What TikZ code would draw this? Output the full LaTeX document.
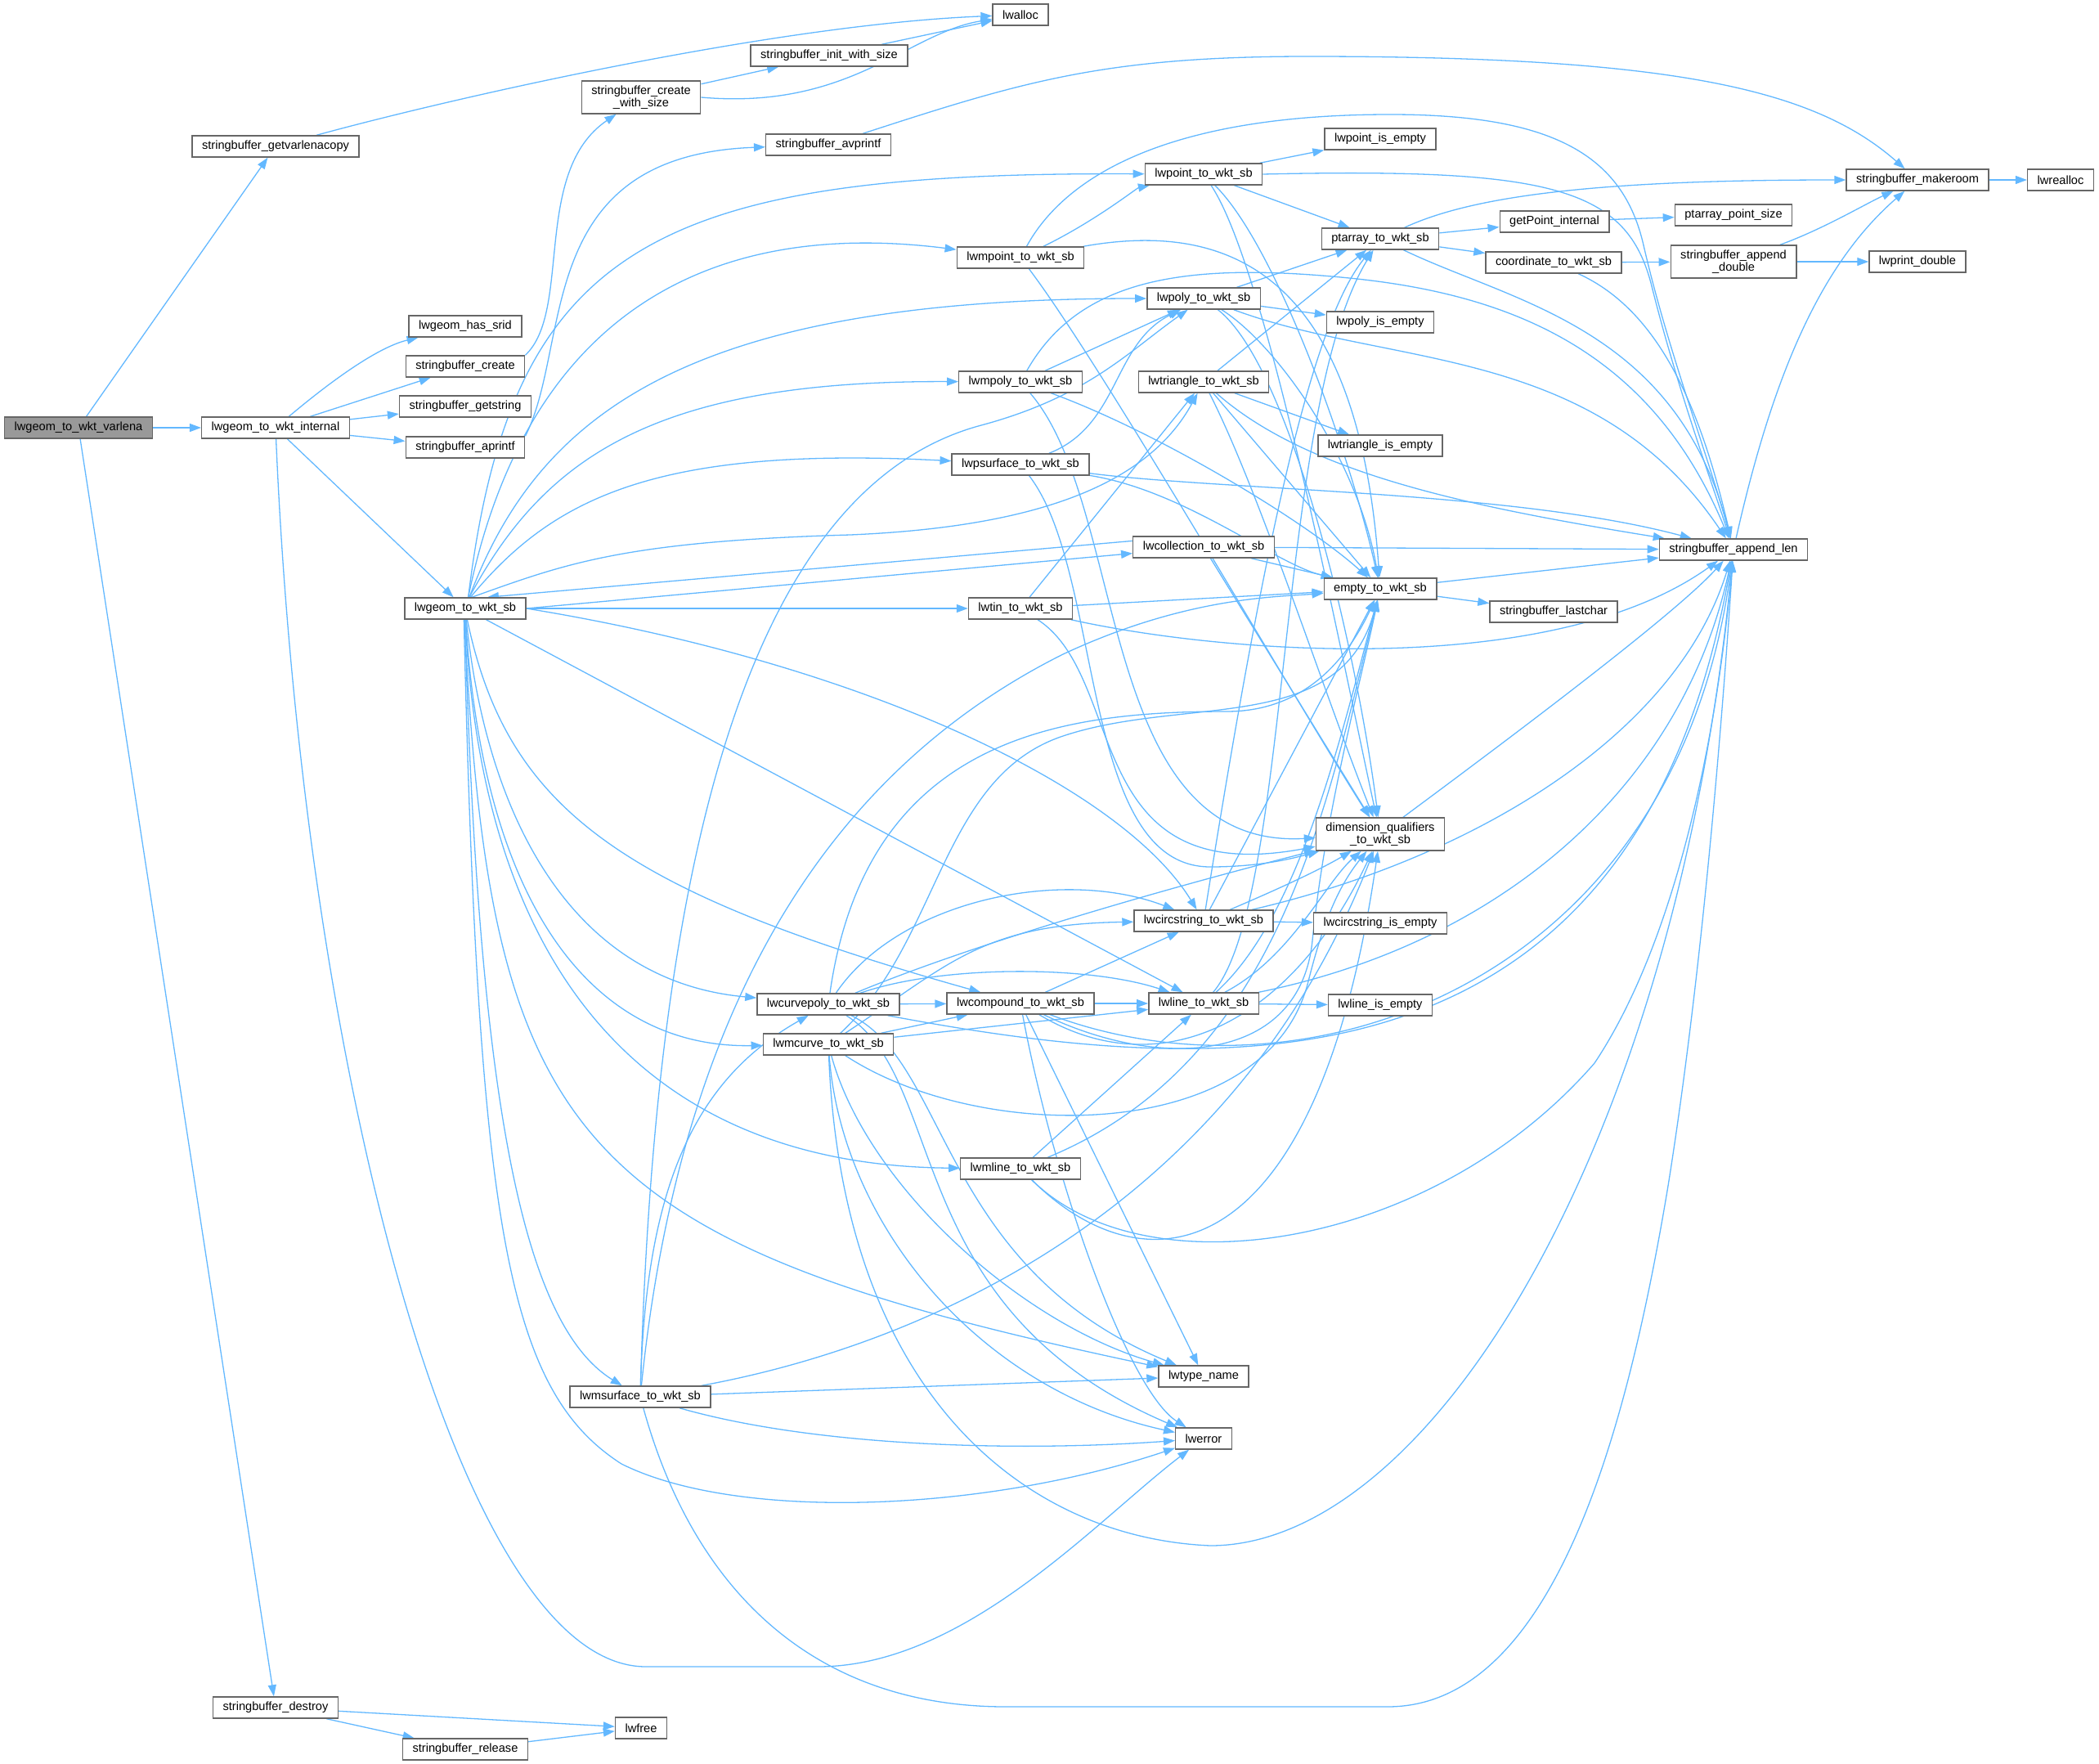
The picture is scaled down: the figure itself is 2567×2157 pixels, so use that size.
\documentclass[tikz,border=0pt]{standalone}
\usepackage{fontspec}
\usepackage{xcolor}
\usepackage{tikz}
\usetikzlibrary{arrows.meta, positioning}
\newfontfamily\dotfamily{Liberation Sans}
\newcommand{\dotfont}{\dotfamily\fontsize{14.6}{15.5}\selectfont}
\definecolor{edgeblue}{HTML}{63B8FF}
\definecolor{boxgray}{HTML}{666666}
\definecolor{rootgray}{HTML}{999999}
\pgfdeclarelayer{edges}
\pgfsetlayers{edges,main}

\begin{document}
\begin{tikzpicture}[
    x=1pt, y=-1pt,
    fn/.style={rectangle, draw=boxgray, line width=1.4pt, fill=white, font=\dotfont, inner xsep=12pt, inner ysep=0pt, minimum height=26pt},
    root/.style={fn, fill=rootgray},
    twoline/.style={fn, align=center, minimum height=40pt, inner ysep=2pt},
    call/.style={draw=edgeblue, line width=1.3pt, -{Triangle[length=14pt,width=10pt]}}
]
    \useasboundingbox (0,0) rectangle (2567,2157);

    \node [root] (varlena) at (96,523) {lwgeom\_to\_wkt\_varlena};
    \node [fn] (getvarlena) at (337,179) {stringbuffer\_getvarlenacopy};
    \node [fn] (internal) at (337,523) {lwgeom\_to\_wkt\_internal};
    \node [fn] (destroy) at (337,2088) {stringbuffer\_destroy};
    \node [fn] (release) at (569,2139) {stringbuffer\_release};
    \node [fn] (lwfree) at (784,2113) {lwfree};
    \node [fn] (hassrid) at (569,399) {lwgeom\_has\_srid};
    \node [fn] (sbcreate) at (569,448) {stringbuffer\_create};
    \node [fn] (getstring) at (569,497) {stringbuffer\_getstring};
    \node [fn] (aprintf) at (569,547) {stringbuffer\_aprintf};
    \node [fn] (wktsb) at (569,744) {lwgeom\_to\_wkt\_sb};
    \node [twoline] (createsize) at (784,119) {stringbuffer\_create\\\_with\_size};
    \node [fn] (initsize) at (1014,68) {stringbuffer\_init\_with\_size};
    \node [fn] (lwalloc) at (1248,18) {lwalloc};
    \node [fn] (avprintf) at (1013,177) {stringbuffer\_avprintf};
    \node [fn] (mpoint) at (1248,315) {lwmpoint\_to\_wkt\_sb};
    \node [fn] (mpoly) at (1248,467) {lwmpoly\_to\_wkt\_sb};
    \node [fn] (psurface) at (1248,568) {lwpsurface\_to\_wkt\_sb};
    \node [fn] (tin) at (1248,744) {lwtin\_to\_wkt\_sb};
    \node [fn] (compound) at (1248,1227) {lwcompound\_to\_wkt\_sb};
    \node [fn] (mline) at (1248,1429) {lwmline\_to\_wkt\_sb};
    \node [fn] (curvepoly) at (1013,1228) {lwcurvepoly\_to\_wkt\_sb};
    \node [fn] (mcurve) at (1013,1277) {lwmcurve\_to\_wkt\_sb};
    \node [fn] (msurface) at (783,1708) {lwmsurface\_to\_wkt\_sb};
    \node [fn] (point) at (1472,213) {lwpoint\_to\_wkt\_sb};
    \node [fn] (poly) at (1472,365) {lwpoly\_to\_wkt\_sb};
    \node [fn] (triangle) at (1472,467) {lwtriangle\_to\_wkt\_sb};
    \node [fn] (collection) at (1472,669) {lwcollection\_to\_wkt\_sb};
    \node [fn] (circstring) at (1472,1126) {lwcircstring\_to\_wkt\_sb};
    \node [fn] (line) at (1472,1227) {lwline\_to\_wkt\_sb};
    \node [fn] (typename) at (1472,1683) {lwtype\_name};
    \node [fn] (lwerror) at (1472,1759) {lwerror};
    \node [fn] (pointempty) at (1688,170) {lwpoint\_is\_empty};
    \node [fn] (ptarray) at (1688,292) {ptarray\_to\_wkt\_sb};
    \node [fn] (polyempty) at (1688,394) {lwpoly\_is\_empty};
    \node [fn] (triempty) at (1688,545) {lwtriangle\_is\_empty};
    \node [fn] (emptywkt) at (1688,720) {empty\_to\_wkt\_sb};
    \node [twoline] (dimqual) at (1688,1020) {dimension\_qualifiers\\\_to\_wkt\_sb};
    \node [fn] (circempty) at (1688,1129) {lwcircstring\_is\_empty};
    \node [fn] (lineempty) at (1688,1229) {lwline\_is\_empty};
    \node [fn] (getpoint) at (1901,271) {getPoint\_internal};
    \node [fn] (coordwkt) at (1900,321) {coordinate\_to\_wkt\_sb};
    \node [fn] (lastchar) at (1900,748) {stringbuffer\_lastchar};
    \node [fn] (ptsize) at (2120,263) {ptarray\_point\_size};
    \node [twoline] (appdouble) at (2120,320) {stringbuffer\_append\\\_double};
    \node [fn] (appendlen) at (2120,672) {stringbuffer\_append\_len};
    \node [fn] (makeroom) at (2345,220) {stringbuffer\_makeroom};
    \node [fn] (lwprint) at (2345,320) {lwprint\_double};
    \node [fn] (lwrealloc) at (2520,220) {lwrealloc};

    \begin{pgfonlayer}{edges}
    \draw [call] (varlena) -- (internal);
    \draw [call] (varlena) -- (getvarlena);
    \draw [call] (varlena) -- (destroy);
    \draw [call] (getvarlena) .. controls (560,118) and (950,30) .. (lwalloc);
    \draw [call] (internal) .. controls (400,470) and (460,425) .. (hassrid);
    \draw [call] (internal) -- (sbcreate);
    \draw [call] (internal) -- (getstring);
    \draw [call] (internal) -- (aprintf);
    \draw [call] (internal) -- (wktsb);
    \draw [call] (internal) .. controls (370,1300) and (560,2038) .. (790,2038) -- (1000,2038) .. controls (1180,2038) and (1340,1860) .. (lwerror);
    \draw [call] (destroy) -- (lwfree);
    \draw [call] (destroy) -- (release);
    \draw [call] (release) -- (lwfree);
    \draw [call] (sbcreate.north east) .. controls (700,380) and (650,210) .. (createsize);
    \draw [call] (aprintf.north east) .. controls (700,420) and (650,190) .. (avprintf);
    \draw [call] (createsize) -- (initsize);
    \draw [call] (createsize.east) .. controls (1040,135) and (1110,40) .. (lwalloc);
    \draw [call] (initsize) -- (lwalloc);
    \draw [call] (avprintf) .. controls (1250,100) and (1350,69) .. (1600,69) .. controls (2050,69) and (2220,110) .. (makeroom);

    \draw [call] (wktsb.75) .. controls (625,300) and (800,210) .. (point);
    \draw [call] (wktsb.75) .. controls (640,400) and (850,265) .. (mpoint);
    \draw [call] (wktsb.70) .. controls (660,500) and (850,365) .. (poly);
    \draw [call] (wktsb.70) .. controls (665,560) and (800,465) .. (mpoly);
    \draw [call] (wktsb.65) .. controls (675,610) and (800,545) .. (psurface);
    \draw [call] (wktsb.60) .. controls (690,690) and (760,662) .. (1040,654) .. controls (1250,645) and (1400,600) .. (triangle);
    \draw [call] (wktsb.east) -- (collection.185);
    \draw [call] (collection.175) -- (wktsb.27);
    \draw [call] (wktsb.east) -- (tin);
    \draw [call] (wktsb.east) .. controls (1050,810) and (1370,960) .. (circstring);
    \draw [call] (wktsb) -- (line);
    \draw [call] (wktsb.-80) .. controls (620,990) and (760,1090) .. (compound);
    \draw [call] (wktsb.-85) .. controls (595,1000) and (700,1200) .. (curvepoly);
    \draw [call] (wktsb.-88) .. controls (590,1100) and (720,1282) .. (mcurve);
    \draw [call] (wktsb.-90) .. controls (590,1200) and (800,1425) .. (mline);
    \draw [call] (wktsb.-92) .. controls (585,1350) and (640,1620) .. (msurface);
    \draw [call] (wktsb.-95) .. controls (600,1400) and (700,1520) .. (typename);
    \draw [call] (wktsb.-97) .. controls (585,1500) and (620,1700) .. (760,1790) .. controls (900,1860) and (1200,1850) .. (lwerror);

    \draw [call] (point) -- (pointempty);
    \draw [call] (point.east) .. controls (1900,205) and (1990,230) .. (2020,350) .. controls (2050,470) and (2090,580) .. (appendlen);
    \draw [call] (point) -- (ptarray);
    \draw [call] (point) .. controls (1560,300) and (1650,550) .. (emptywkt);
    \draw [call] (point) .. controls (1550,330) and (1640,800) .. (dimqual);

    \draw [call] (mpoint) .. controls (1340,270) and (1390,230) .. (point);
    \draw [call] (mpoint) .. controls (1300,220) and (1420,140) .. (1700,140) .. controls (1900,140) and (1985,190) .. (2010,300) .. controls (2040,430) and (2090,560) .. (appendlen);
    \draw [call] (mpoint) .. controls (1500,270) and (1660,330) .. (emptywkt);
    \draw [call] (mpoint) .. controls (1350,450) and (1580,850) .. (dimqual);

    \draw [call] (poly) -- (ptarray);
    \draw [call] (poly) -- (polyempty);
    \draw [call] (poly) .. controls (1700,450) and (1950,420) .. (appendlen);
    \draw [call] (poly) .. controls (1560,420) and (1660,560) .. (emptywkt);
    \draw [call] (poly) .. controls (1580,450) and (1660,800) .. (dimqual);

    \draw [call] (mpoly) -- (poly);
    \draw [call] (mpoly) .. controls (1320,340) and (1450,320) .. (1650,340) .. controls (1850,360) and (2020,430) .. (appendlen);
    \draw [call] (mpoly) .. controls (1420,530) and (1600,640) .. (emptywkt);
    \draw [call] (mpoly) .. controls (1380,620) and (1340,1040) .. (dimqual);

    \draw [call] (psurface) .. controls (1370,520) and (1360,420) .. (poly);
    \draw [call] (psurface) .. controls (1500,600) and (1850,600) .. (appendlen);
    \draw [call] (psurface) .. controls (1450,600) and (1560,690) .. (emptywkt);
    \draw [call] (psurface) .. controls (1350,700) and (1320,1060) .. (1480,1060) .. controls (1540,1060) and (1580,1050) .. (dimqual);

    \draw [call] (triangle) -- (ptarray);
    \draw [call] (triangle) -- (triempty);
    \draw [call] (triangle) -- (emptywkt);
    \draw [call] (triangle) .. controls (1540,600) and (1620,850) .. (dimqual);
    \draw [call] (triangle) .. controls (1600,580) and (1800,620) .. (appendlen);

    \draw [call] (collection) -- (appendlen);
    \draw [call] (collection) -- (emptywkt);
    \draw [call] (collection) -- (dimqual);

    \draw [call] (tin) -- (triangle);
    \draw [call] (tin) -- (emptywkt);
    \draw [call] (tin) .. controls (1500,800) and (1900,830) .. (appendlen);
    \draw [call] (tin) .. controls (1380,830) and (1320,1090) .. (dimqual);

    \draw [call] (circstring) .. controls (1540,700) and (1600,400) .. (ptarray);
    \draw [call] (circstring) -- (emptywkt);
    \draw [call] (circstring) .. controls (1580,1080) and (1620,1060) .. (dimqual);
    \draw [call] (circstring) -- (circempty);
    \draw [call] (circstring) .. controls (1800,1050) and (2050,900) .. (appendlen);

    \draw [call] (line) .. controls (1580,1100) and (1560,500) .. (ptarray);
    \draw [call] (line) .. controls (1590,1120) and (1640,900) .. (emptywkt);
    \draw [call] (line) .. controls (1580,1170) and (1620,1080) .. (dimqual);
    \draw [call] (line) -- (lineempty);
    \draw [call] (line) .. controls (1850,1150) and (2060,950) .. (appendlen);

    \draw [call] (compound) -- (circstring);
    \draw [call] (compound) -- (line);
    \draw [call] (compound) .. controls (1420,1310) and (1590,1300) .. (1605,1150) .. controls (1620,1000) and (1660,850) .. (emptywkt);
    \draw [call] (compound) .. controls (1420,1330) and (1580,1250) .. (dimqual);
    \draw [call] (compound) .. controls (1600,1360) and (2050,1200) .. (appendlen);
    \draw [call] (compound) -- (typename);
    \draw [call] (compound) .. controls (1290,1450) and (1380,1700) .. (lwerror);

    \draw [call] (curvepoly) -- (compound);
    \draw [call] (curvepoly) .. controls (1150,1180) and (1330,1180) .. (line);
    \draw [call] (curvepoly) .. controls (1100,1100) and (1300,1060) .. (circstring);
    \draw [call] (curvepoly) .. controls (1060,900) and (1300,870) .. (1500,870) .. controls (1600,870) and (1650,800) .. (emptywkt);
    \draw [call] (curvepoly) .. controls (1200,1150) and (1450,1080) .. (dimqual);
    \draw [call] (curvepoly) .. controls (1500,1320) and (2000,1350) .. (appendlen);
    \draw [call] (curvepoly) .. controls (1160,1320) and (1100,1600) .. (lwerror);
    \draw [call] (curvepoly) .. controls (1160,1300) and (1150,1550) .. (typename);

    \draw [call] (mcurve) -- (compound);
    \draw [call] (mcurve) -- (line);
    \draw [call] (mcurve) .. controls (1160,1180) and (1200,1130) .. (circstring);
    \draw [call] (mcurve) .. controls (1150,1150) and (1150,950) .. (1300,900) .. controls (1450,850) and (1640,900) .. (emptywkt);
    \draw [call] (mcurve) .. controls (1200,1400) and (1550,1400) .. (1600,1200) .. controls (1620,1120) and (1640,1080) .. (dimqual);
    \draw [call] (mcurve) .. controls (1030,1700) and (1250,1880) .. (1480,1890) .. controls (1750,1890) and (2050,1400) .. (appendlen);
    \draw [call] (mcurve) .. controls (1030,1500) and (1200,1700) .. (lwerror);
    \draw [call] (mcurve) .. controls (1060,1450) and (1250,1620) .. (typename);

    \draw [call] (mline) -- (line);
    \draw [call] (mline) .. controls (1560,1300) and (1620,1000) .. (emptywkt);
    \draw [call] (mline) .. controls (1400,1580) and (1610,1560) .. (dimqual);
    \draw [call] (mline) .. controls (1400,1580) and (1750,1530) .. (1950,1300) .. controls (2050,1150) and (2100,900) .. (appendlen);

    \draw [call] (msurface) .. controls (790,1450) and (850,1320) .. (curvepoly);
    \draw [call] (msurface) .. controls (800,1100) and (900,600) .. (1200,520) .. controls (1330,485) and (1380,430) .. (poly);
    \draw [call] (msurface) .. controls (830,1250) and (1000,950) .. (1300,800) .. controls (1450,730) and (1560,730) .. (emptywkt);
    \draw [call] (msurface) -- (typename);
    \draw [call] (msurface) .. controls (1000,1770) and (1250,1775) .. (lwerror);
    \draw [call] (msurface) .. controls (1100,1650) and (1500,1500) .. (dimqual);
    \draw [call] (msurface) .. controls (850,1950) and (1000,2087) .. (1230,2087) -- (1697,2087) .. controls (1900,2087) and (1990,1750) .. (2040,1450) .. controls (2080,1200) and (2105,900) .. (appendlen);

    \draw [call] (ptarray) .. controls (1800,240) and (1950,220) .. (makeroom);
    \draw [call] (ptarray) -- (getpoint);
    \draw [call] (ptarray) -- (coordwkt);
    \draw [call] (ptarray) .. controls (1850,370) and (2050,400) .. (appendlen);
    \draw [call] (getpoint) -- (ptsize);
    \draw [call] (coordwkt) -- (appdouble);
    \draw [call] (coordwkt) .. controls (2030,380) and (2080,500) .. (appendlen);
    \draw [call] (appdouble) .. controls (2230,280) and (2280,250) .. (makeroom);
    \draw [call] (appdouble) -- (lwprint);
    \draw [call] (appendlen) .. controls (2170,450) and (2230,320) .. (makeroom);
    \draw [call] (makeroom) -- (lwrealloc);
    \draw [call] (emptywkt) -- (lastchar);
    \draw [call] (emptywkt) -- (appendlen);
    \draw [call] (dimqual) .. controls (1850,900) and (2050,750) .. (appendlen);
    \end{pgfonlayer}
\end{tikzpicture}
\end{document}
